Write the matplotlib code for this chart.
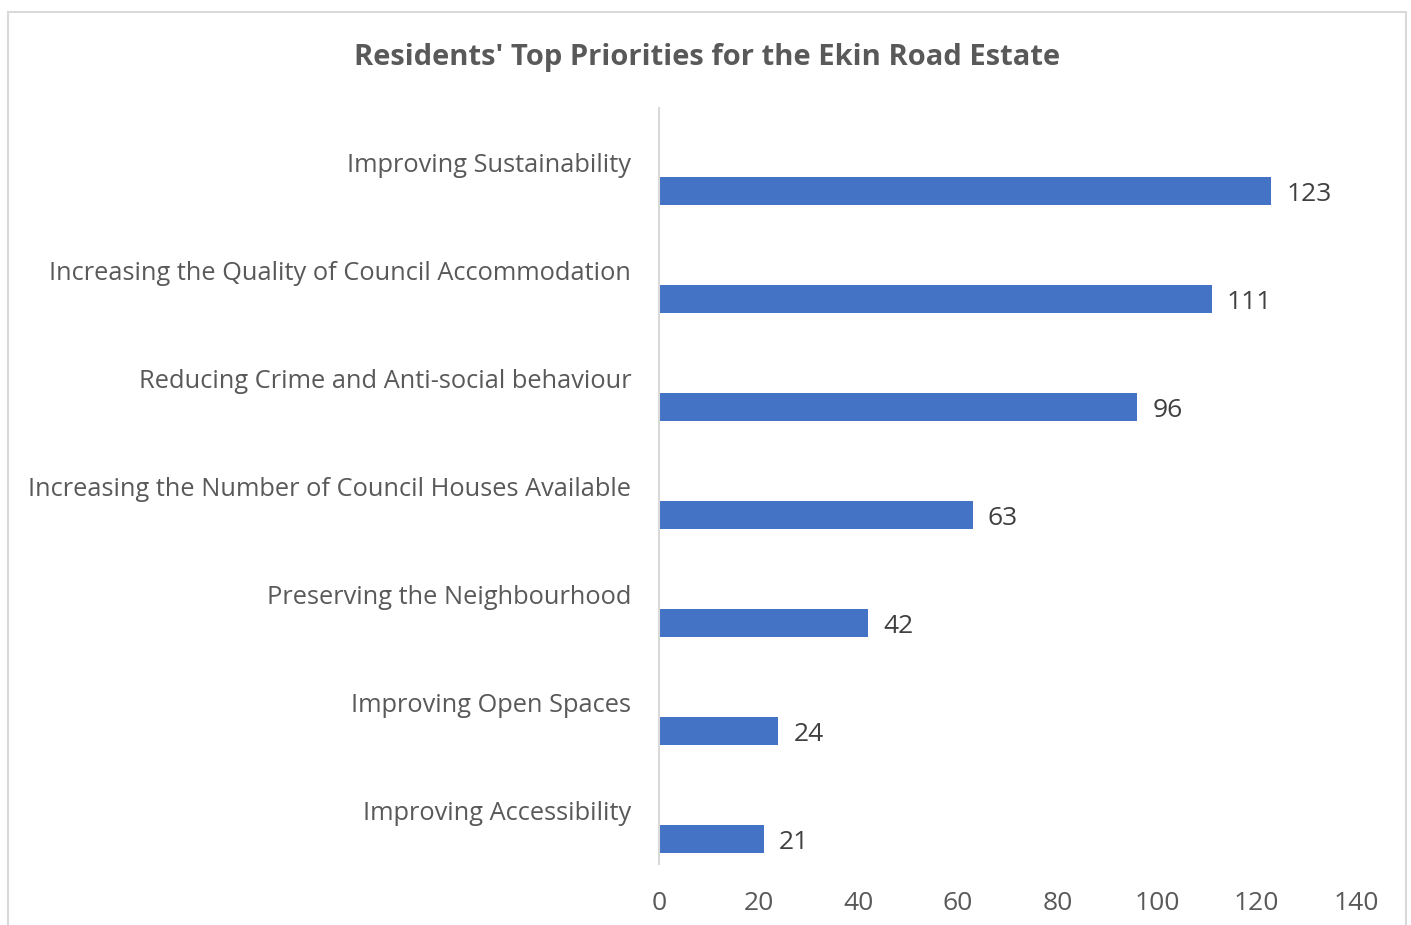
import matplotlib.pyplot as plt
from matplotlib.patches import Rectangle

categories = ["Improving Sustainability",
              "Increasing the Quality of Council Accommodation",
              "Reducing Crime and Anti-social behaviour",
              "Increasing the Number of Council Houses Available",
              "Preserving the Neighbourhood",
              "Improving Open Spaces",
              "Improving Accessibility"]
values = [123, 111, 96, 63, 42, 24, 21]
xticks = [0, 20, 40, 60, 80, 100, 120, 140]

W, H = 1411, 925
plt.rcParams['font.family'] = ['Open Sans', 'DejaVu Sans']

fig = plt.figure(figsize=(W / 100, H / 100), dpi=100)
# chart border
fig.patches.append(Rectangle((8 / W, -0.01), (1406 - 8) / W, 1.01 - 12 / H,
                             transform=fig.transFigure, fill=False,
                             edgecolor='#d9d9d9', linewidth=1.5))

ax = fig.add_axes([659 / W, 1 - 864 / H, (1356 - 659) / W, (864 - 108) / H])

pos = list(range(len(categories)))
offset = 0.27  # bars sit in the lower half of each category band
ax.barh([p + offset for p in pos], values, height=0.26, color='#4472C4')
for p, v in zip(pos, values):
    ax.annotate(str(v), (v, p + offset), xytext=(11, -2.5), textcoords='offset points',
                va='center', ha='left', fontsize=19, color='#404040')

ax.set_xlim(0, 140)
ax.set_ylim(len(categories) - 0.5, -0.5)
ax.set_yticks(pos)
ax.set_yticklabels(categories, fontsize=18.3, color='#595959')
ax.set_xticks(xticks)
ax.set_xticklabels([str(t) for t in xticks], fontsize=19, color='#595959')
ax.tick_params(length=0)
ax.tick_params(axis='y', pad=20)
ax.tick_params(axis='x', pad=19.5)
for s in ['top', 'right', 'bottom']:
    ax.spines[s].set_visible(False)
ax.spines['left'].set_color('#d9d9d9')
ax.spines['left'].set_linewidth(1.5)

fig.text(707 / W, 1 - 58 / H, "Residents' Top Priorities for the Ekin Road Estate",
         ha='center', va='center', fontsize=21, fontweight='bold', color='#595959')

fig.savefig('out.png', dpi=100)
